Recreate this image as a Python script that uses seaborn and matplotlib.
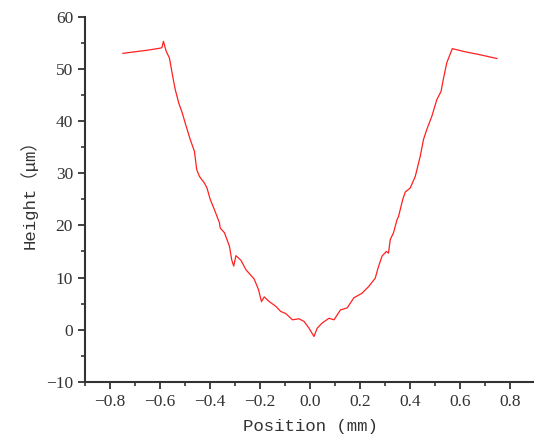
import matplotlib
matplotlib.use("Agg")
import matplotlib.pyplot as plt
import seaborn as sns
import pandas as pd
from matplotlib.ticker import MultipleLocator

position = [-0.749, -0.70, -0.65, -0.598, -0.592, -0.586, -0.575, -0.562, -0.549, -0.539,
            -0.525, -0.511, -0.495, -0.479, -0.462, -0.453, -0.442, -0.422, -0.412,
            -0.399, -0.382, -0.362, -0.359, -0.342, -0.322, -0.313, -0.305, -0.296,
            -0.276, -0.256, -0.223, -0.206, -0.194, -0.183, -0.163, -0.137, -0.117,
            -0.097, -0.070, -0.044, -0.024, -0.004, 0.016, 0.029, 0.049, 0.076,
            0.096, 0.122, 0.149, 0.175, 0.208, 0.235, 0.261, 0.272, 0.288, 0.305,
            0.314, 0.321, 0.334, 0.348, 0.354, 0.371, 0.381, 0.401, 0.421, 0.441,
            0.454, 0.467, 0.487, 0.507, 0.524, 0.533, 0.547, 0.569, 0.620, 0.673, 0.748]
height = [53.0, 53.3, 53.6, 54.0, 54.1, 55.3, 53.4, 52.1, 48.6, 46.1,
          43.5, 41.6, 39.0, 36.5, 34.2, 30.7, 29.4, 28.1, 27.2,
          25.0, 23.0, 20.5, 19.5, 18.6, 16.0, 13.4, 12.2, 14.2,
          13.3, 11.5, 9.7, 7.7, 5.4, 6.3, 5.4, 4.5, 3.5,
          3.1, 1.9, 2.1, 1.6, 0.3, -1.3, 0.3, 1.3, 2.2,
          1.9, 3.8, 4.2, 6.1, 7.0, 8.3, 9.9, 11.8, 14.1, 15.0,
          14.7, 17.3, 18.6, 21.1, 21.7, 25.0, 26.4, 27.2, 29.4, 33.3,
          36.5, 38.4, 40.9, 44.1, 45.7, 48.0, 51.2, 53.9, 53.3, 52.8, 52.0]

xticks = [-0.8, -0.6, -0.4, -0.2, 0.0, 0.2, 0.4, 0.6, 0.8]
yticks = [-10, 0, 10, 20, 30, 40, 50, 60]

sns.set_style("ticks")
plt.rcParams['font.family'] = ['Liberation Serif', 'Noto Sans CJK SC']

df = pd.DataFrame({"Position": position, "Height": height})

fig = plt.figure(figsize=(5.34, 4.43), dpi=100)
ax = fig.add_axes([0.159, 0.138, 0.843, 0.824])
sns.lineplot(data=df, x="Position", y="Height", color="#ff2020", linewidth=0.9, ax=ax, sort=False)

ax.set_xlim(-0.9, 0.9)
ax.set_ylim(-10, 60)
ax.set_xticks(xticks)
ax.set_xticklabels([f"{v:.1f}".replace("-", "\u2212") for v in xticks])
ax.set_yticks(yticks)
ax.set_yticklabels([str(v).replace("-", "\u2212") for v in yticks])
ax.xaxis.set_minor_locator(MultipleLocator(0.1))
ax.yaxis.set_minor_locator(MultipleLocator(5))
ax.tick_params(which="major", direction="out", length=5, width=1.3, color="#333333",
               labelsize=12.5, labelcolor="#333333")
ax.tick_params(which="minor", direction="out", length=3, width=1.2, color="#333333")
for s in ["top", "right"]:
    ax.spines[s].set_visible(False)
for s in ["left", "bottom"]:
    ax.spines[s].set_linewidth(1.5)
    ax.spines[s].set_color("#333333")

ax.set_xlabel("Position (mm)", fontsize=12.5, color="#333333",
              family=["Liberation Mono", "Noto Sans CJK SC"], labelpad=7)
ax.set_ylabel("Height\uff08\u03bcm\uff09", fontsize=12.5, color="#333333",
              family=["Liberation Mono", "Noto Sans CJK SC"])
ax.yaxis.set_label_coords(-0.105, 0.526)

fig.savefig("out.png", dpi=100)
